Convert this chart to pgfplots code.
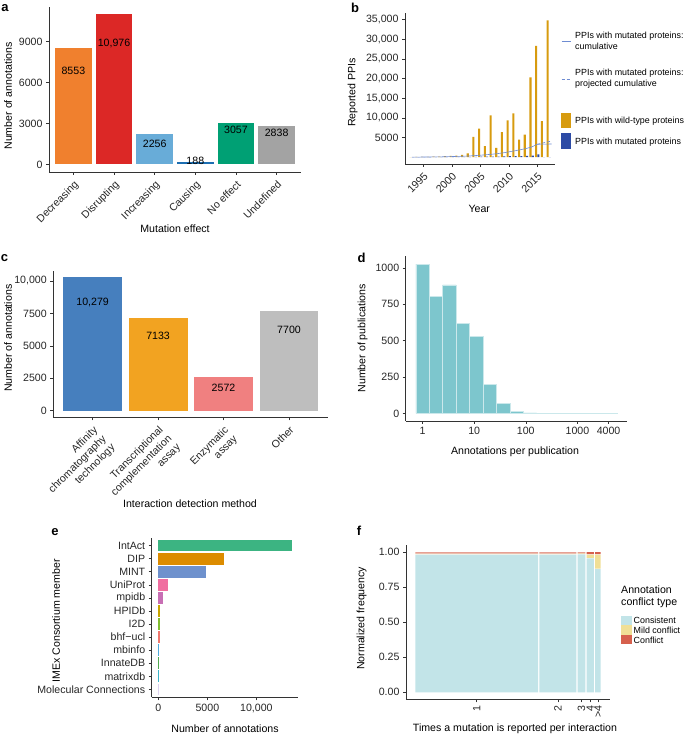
\documentclass[border=0pt]{standalone}
\usepackage{fontspec}
\setmainfont{Liberation Sans}
\usepackage{pgfplots}
\pgfplotsset{compat=1.18}

% panel a
\definecolor{aDec}{RGB}{240,128,46}
\definecolor{aDis}{RGB}{220,40,38}
\definecolor{aInc}{RGB}{104,172,216}
\definecolor{aCau}{RGB}{28,110,178}
\definecolor{aNoe}{RGB}{0,160,116}
\definecolor{aUnd}{RGB}{163,163,163}
% panel b
\definecolor{bGold}{RGB}{215,155,15}
\definecolor{bMut}{RGB}{45,75,165}
\definecolor{bCum}{RGB}{110,140,210}
% panel c
\definecolor{cAff}{RGB}{70,127,190}
\definecolor{cTra}{RGB}{242,163,33}
\definecolor{cEnz}{RGB}{240,128,128}
\definecolor{cOth}{RGB}{190,190,190}
% panel d
\definecolor{dTeal}{RGB}{125,198,205}
% panel e
\definecolor{eIntact}{RGB}{60,180,130}
\definecolor{eDip}{RGB}{220,140,0}
\definecolor{eMint}{RGB}{110,145,205}
\definecolor{eUni}{RGB}{240,110,160}
\definecolor{eMpi}{RGB}{200,110,180}
\definecolor{eHpi}{RGB}{200,165,0}
\definecolor{eI2d}{RGB}{130,190,50}
\definecolor{eBhf}{RGB}{240,120,110}
\definecolor{eMbi}{RGB}{80,170,220}
\definecolor{eInn}{RGB}{80,170,80}
\definecolor{eMat}{RGB}{60,180,200}
\definecolor{eMol}{RGB}{220,210,240}
% panel f
\definecolor{fCons}{RGB}{194,228,232}
\definecolor{fMild}{RGB}{240,223,150}
\definecolor{fConf}{RGB}{214,96,77}

\newcommand{\fs}{\fontsize{10.6}{12.3}\selectfont}
\newcommand{\fl}{\fontsize{8.9}{10.8}\selectfont}
\newcommand{\fp}{\fontsize{13}{15}\selectfont\bfseries}

\pgfplotsset{
  gg/.style={
    scale only axis,
    anchor=south west,
    axis x line*=bottom, axis y line*=left,
    axis line style={-, draw=black!80, line width=0.6pt},
    tick style={draw=black!80, line width=0.5pt},
    major tick length=3pt,
    tick align=outside,
    tick label style={font=\fs, text=black!85},
    scaled ticks=false,
    /pgf/number format/assume math mode=true,
    clip=false,
  },
  vbar/.style={ybar, bar width=0.9, bar shift=0pt, draw=none},
  hbar/.style={xbar, bar width=0.9, bar shift=0pt, draw=none},
  tile/.style={fill=#1, draw=none},
}

\begin{document}
\begin{tikzpicture}
\useasboundingbox (0,0) rectangle (685pt,734pt);

% ---------- a ----------
\begin{axis}[gg, at={(49pt,562pt)}, width=252pt, height=165pt,
  xmin=-0.6, xmax=5.6, ymin=-549, ymax=11525,
  xtick={0,1,2,3,4,5},
  xticklabels={Decreasing,Disrupting,Increasing,Causing,No effect,Undefined},
  xticklabel style={rotate=45, anchor=north east},
  ytick={0,3000,6000,9000}, yticklabels={0,3000,6000,9000}]
\addplot[vbar, fill=aDec] coordinates {(0,8553)};
\addplot[vbar, fill=aDis] coordinates {(1,10976)};
\addplot[vbar, fill=aInc] coordinates {(2,2256)};
\addplot[vbar, fill=aCau] coordinates {(3,188)};
\addplot[vbar, fill=aNoe] coordinates {(4,3057)};
\addplot[vbar, fill=aUnd] coordinates {(5,2838)};
\node[font=\fs] at (axis cs:0,6878) {8553};
\node[font=\fs] at (axis cs:1,8854) {10,976};
\node[font=\fs] at (axis cs:2,1537) {2256};
\node[font=\fs] at (axis cs:3,293) {188};
\node[font=\fs] at (axis cs:4,2510) {3057};
\node[font=\fs] at (axis cs:5,2341) {2838};
\end{axis}

% ---------- b ----------
\begin{axis}[gg, at={(405pt,570pt)}, width=150pt, height=151pt,
  xmin=1991.8, xmax=2018.1, ymin=-1745, ymax=36645,
  xtick={1995,2000,2005,2010,2015}, xticklabels={1995,2000,2005,2010,2015},
  xticklabel style={rotate=45, anchor=north east},
  ytick={5000,10000,15000,20000,25000,30000,35000},
  yticklabels={5000,{10,000},{15,000},{20,000},{25,000},{30,000},{35,000}}]
\addplot[ybar, bar width=0.36, bar shift=-0.2, fill=bGold, draw=none] coordinates {
  (1993,20) (1994,40) (1995,60) (1996,80) (1997,120) (1998,150) (1999,250)
  (2000,350) (2001,400) (2002,550) (2003,950) (2004,5140) (2005,7260)
  (2006,2800) (2007,10600) (2008,2370) (2009,6330) (2010,9350) (2011,11100)
  (2012,4480) (2013,5740) (2014,20270) (2015,28260) (2016,9180) (2017,34800)};
\addplot[ybar, bar width=0.36, bar shift=0.2, fill=bMut, draw=none] coordinates {
  (1993,5) (1994,10) (1995,10) (1996,15) (1997,15) (1998,20) (1999,30)
  (2000,40) (2001,40) (2002,50) (2003,60) (2004,90) (2005,100) (2006,120)
  (2007,130) (2008,150) (2009,200) (2010,250) (2011,260) (2012,280)
  (2013,300) (2014,400) (2015,700) (2016,30) (2017,20)};
\addplot[bCum, dash pattern=on 3pt off 2pt, line width=0.6pt] coordinates {
  (2015,3275) (2016,3600) (2017,3950) (2017.5,4050)};
\addplot[bCum, line width=0.6pt] coordinates {
  (1993,5) (1994,15) (1995,25) (1996,40) (1997,55) (1998,75) (1999,105)
  (2000,145) (2001,185) (2002,235) (2003,295) (2004,385) (2005,485)
  (2006,605) (2007,735) (2008,885) (2009,1085) (2010,1335) (2011,1595)
  (2012,1875) (2013,2175) (2014,2575) (2015,3275) (2016,3305) (2017,3325)
  (2017.5,3330)};
\end{axis}

% ---------- c ----------
\begin{axis}[gg, at={(53.3pt,316.7pt)}, width=275pt, height=146.6pt,
  xmin=-0.6, xmax=3.6, ymin=-514, ymax=10793,
  xtick={0,1,2,3},
  xticklabels={{Affinity\\chromatography\\technology},{Transcriptional\\complementation\\assay},{Enzymatic\\assay},Other},
  xticklabel style={rotate=45, anchor=north east, align=right},
  ytick={0,2500,5000,7500,10000}, yticklabels={0,2500,5000,7500,{10,000}}]
\addplot[vbar, fill=cAff] coordinates {(0,10279)};
\addplot[vbar, fill=cTra] coordinates {(1,7133)};
\addplot[vbar, fill=cEnz] coordinates {(2,2572)};
\addplot[vbar, fill=cOth] coordinates {(3,7700)};
\node[font=\fs] at (axis cs:0,8322) {10,279};
\node[font=\fs] at (axis cs:1,5746) {7133};
\node[font=\fs] at (axis cs:2,1779) {2572};
\node[font=\fs] at (axis cs:3,6210) {7700};
\end{axis}

% ---------- d ----------
\begin{axis}[gg, at={(405.7pt,313pt)}, width=221.6pt, height=165pt,
  xmin=-0.325, xmax=3.965, ymin=-51.5, ymax=1081.5,
  xtick={0,1,2,3,3.60206}, xticklabels={1,10,100,1000,4000},
  ytick={0,250,500,750,1000}, yticklabels={0,250,500,750,1000}]
\addplot[ybar, bar width=0.26, bar shift=0pt, fill=dTeal, draw=white!60!dTeal, line width=0.3pt] coordinates {
  (0,1025) (0.26,806) (0.52,884) (0.78,617) (1.04,531) (1.30,200) (1.56,71)
  (1.82,14) (2.08,5) (2.34,3) (2.60,2) (2.86,1) (3.12,1) (3.38,1) (3.64,2)};
\end{axis}

% ---------- e ----------
\begin{axis}[gg, at={(151.7pt,36.7pt)}, width=146.6pt, height=159.6pt,
  xmin=-680, xmax=14273, ymin=0.4, ymax=12.6,
  ytick={1,2,3,4,5,6,7,8,9,10,11,12},
  yticklabels={Molecular Connections,matrixdb,InnateDB,mbinfo,bhf−ucl,I2D,HPIDb,mpidb,UniProt,MINT,DIP,IntAct},
  xtick={0,5000,10000}, xticklabels={0,5000,{10,000}}]
\addplot[hbar, fill=eIntact] coordinates {(13590,12)};
\addplot[hbar, fill=eDip] coordinates {(6745,11)};
\addplot[hbar, fill=eMint] coordinates {(4866,10)};
\addplot[hbar, fill=eUni] coordinates {(1027,9)};
\addplot[hbar, fill=eMpi] coordinates {(483,8)};
\addplot[hbar, fill=eHpi] coordinates {(205,7)};
\addplot[hbar, fill=eI2d] coordinates {(150,6)};
\addplot[hbar, fill=eBhf] coordinates {(125,5)};
\addplot[hbar, fill=eMbi] coordinates {(95,4)};
\addplot[hbar, fill=eInn] coordinates {(75,3)};
\addplot[hbar, fill=eMat] coordinates {(65,2)};
\addplot[hbar, fill=eMol] coordinates {(30,1)};
\end{axis}

% ---------- f ----------
\begin{axis}[gg, at={(406pt,34.7pt)}, width=204pt, height=154.3pt,
  xmin=-0.05, xmax=1.05, ymin=-0.05, ymax=1.05,
  xtick={0.331,0.7685,0.896,0.9435,0.985}, xticklabels={1,2,3,4,>4},
  xticklabel style={rotate=90, anchor=east},
  ytick={0,0.25,0.5,0.75,1}, yticklabels={0.00,0.25,0.50,0.75,1.00}]
% column 1
\addplot[tile=fCons] coordinates {(0,0)(0.662,0)(0.662,0.982)(0,0.982)(0,0)};
\addplot[tile=fMild] coordinates {(0,0.985)(0.662,0.985)(0.662,0.988)(0,0.988)(0,0.985)};
\addplot[tile=fConf!60!white] coordinates {(0,0.989)(0.662,0.989)(0.662,1)(0,1)(0,0.989)};
% column 2
\addplot[tile=fCons] coordinates {(0.669,0)(0.868,0)(0.868,0.982)(0.669,0.982)(0.669,0)};
\addplot[tile=fMild] coordinates {(0.669,0.985)(0.868,0.985)(0.868,0.988)(0.669,0.988)(0.669,0.985)};
\addplot[tile=fConf!60!white] coordinates {(0.669,0.989)(0.868,0.989)(0.868,1)(0.669,1)(0.669,0.989)};
% column 3
\addplot[tile=fCons] coordinates {(0.875,0)(0.917,0)(0.917,0.984)(0.875,0.984)(0.875,0)};
\addplot[tile=fMild] coordinates {(0.875,0.987)(0.917,0.987)(0.917,0.99)(0.875,0.99)(0.875,0.987)};
\addplot[tile=fConf!60!white] coordinates {(0.875,0.991)(0.917,0.991)(0.917,1)(0.875,1)(0.875,0.991)};
% column 4
\addplot[tile=fCons] coordinates {(0.924,0)(0.963,0)(0.963,0.955)(0.924,0.955)(0.924,0)};
\addplot[tile=fMild] coordinates {(0.924,0.958)(0.963,0.958)(0.963,0.981)(0.924,0.981)(0.924,0.958)};
\addplot[tile=fConf] coordinates {(0.924,0.985)(0.963,0.985)(0.963,1)(0.924,1)(0.924,0.985)};
% column >4
\addplot[tile=fCons] coordinates {(0.970,0)(1,0)(1,0.879)(0.970,0.879)(0.970,0)};
\addplot[tile=fMild] coordinates {(0.970,0.882)(1,0.882)(1,0.981)(0.970,0.981)(0.970,0.882)};
\addplot[tile=fConf] coordinates {(0.970,0.985)(1,0.985)(1,1)(0.970,1)(0.970,0.985)};
\end{axis}

% ---------- axis titles ----------
\node[font=\fs, rotate=90] at (8pt,638pt) {Number of annotations};
\node[font=\fs] at (175pt,505pt) {Mutation effect};
\node[font=\fs, rotate=90] at (352.7pt,641.5pt) {Reported PPIs};
\node[font=\fs] at (479.3pt,524.7pt) {Year};
\node[font=\fs, rotate=90] at (8pt,395.7pt) {Number of annotations};
\node[font=\fs] at (190pt,230.7pt) {Interaction detection method};
\node[font=\fs, rotate=90] at (362.7pt,395.7pt) {Number of publications};
\node[font=\fs] at (515pt,282.3pt) {Annotations per publication};
\node[font=\fs, rotate=90] at (56pt,113.3pt) {IMEx Consortium member};
\node[font=\fs] at (225pt,5.5pt) {Number of annotations};
\node[font=\fs, rotate=90] at (361.7pt,115.7pt) {Normalized frequency};
\node[font=\fs] at (515pt,5.5pt) {Times a mutation is reported per interaction};

% ---------- panel letters ----------
\node[font=\fp] at (5pt,726pt) {a};
\node[font=\fp] at (355pt,726.5pt) {b};
\node[font=\fp] at (4.5pt,476pt) {c};
\node[font=\fp] at (361.7pt,476.5pt) {d};
\node[font=\fp] at (55pt,202.3pt) {e};
\node[font=\fp] at (359pt,203pt) {f};

% ---------- legend b ----------
\draw[bCum, line width=0.6pt] (561.5pt,692.5pt) -- (570.5pt,692.5pt);
\node[font=\fl, anchor=west, align=left, inner sep=0pt] at (575pt,693.5pt) {PPIs with mutated proteins:\\cumulative};
\draw[bCum, line width=0.6pt, dash pattern=on 3pt off 2pt] (561.5pt,654.7pt) -- (570.5pt,654.7pt);
\node[font=\fl, anchor=west, align=left, inner sep=0pt] at (575pt,655pt) {PPIs with mutated proteins:\\projected cumulative};
\fill[bGold] (561pt,605.7pt) rectangle (570.7pt,620.7pt);
\node[font=\fl, anchor=west, inner sep=0pt] at (575pt,613pt) {PPIs with wild-type proteins};
\fill[bMut] (561pt,585pt) rectangle (570.7pt,600.7pt);
\node[font=\fl, anchor=west, inner sep=0pt] at (575pt,592pt) {PPIs with mutated proteins};

% ---------- legend f ----------
\node[font=\fs, anchor=west, align=left, inner sep=0pt] at (621pt,137.3pt) {Annotation\\conflict type};
\fill[fCons] (620.7pt,108.7pt) rectangle (631.7pt,118pt);
\fill[fMild] (620.7pt,99.3pt) rectangle (631.7pt,108.7pt);
\fill[fConf] (620.7pt,90pt) rectangle (631.7pt,99.3pt);
\node[font=\fl, anchor=west, inner sep=0pt] at (633.5pt,113.3pt) {Consistent};
\node[font=\fl, anchor=west, inner sep=0pt] at (633.5pt,103.7pt) {Mild conflict};
\node[font=\fl, anchor=west, inner sep=0pt] at (633.5pt,93.7pt) {Conflict};
\end{tikzpicture}
\end{document}
